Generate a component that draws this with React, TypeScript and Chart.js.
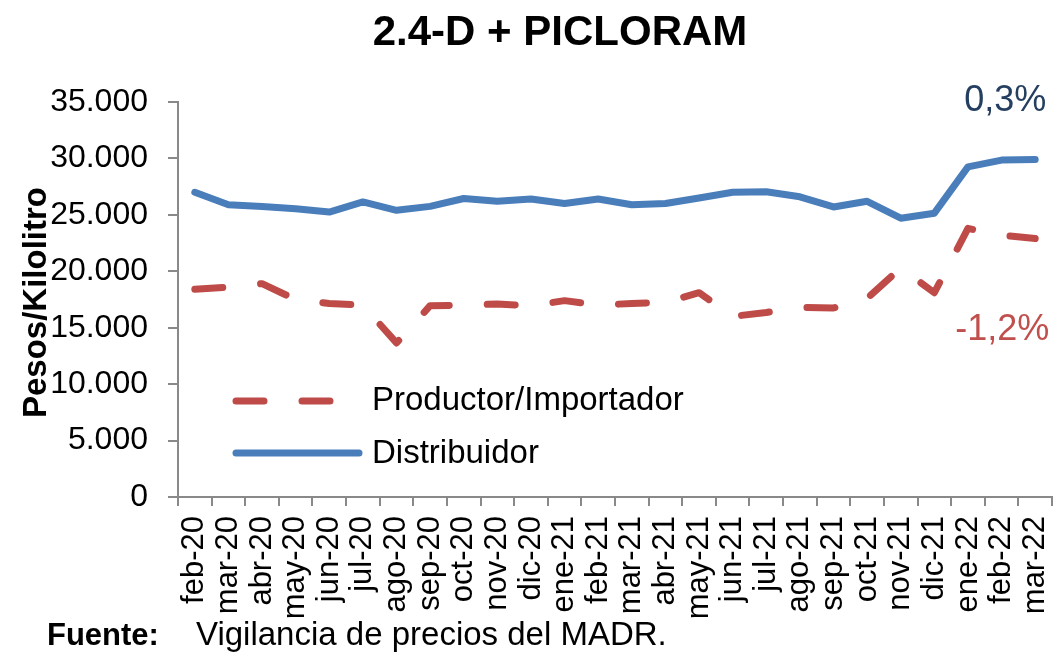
import React, { useEffect, useRef } from "react";
import { Chart, registerables } from "chart.js";

Chart.register(...registerables);

const months: string[] = [
  "feb-20", "mar-20", "abr-20", "may-20", "jun-20", "jul-20", "ago-20", "sep-20",
  "oct-20", "nov-20", "dic-20", "ene-21", "feb-21", "mar-21", "abr-21", "may-21",
  "jun-21", "jul-21", "ago-21", "sep-21", "oct-21", "nov-21", "dic-21", "ene-22",
  "feb-22", "mar-22",
];

const productor: number[] = [
  18400, 18600, 18900, 17500, 17150, 17000, 13650, 16950, 17000, 17100, 16950, 17400,
  17000, 17150, 17250, 18100, 16000, 16350, 16800, 16750, 17600, 20300, 18100, 23800,
  23200, 22900,
];

const distribuidor: number[] = [
  27000, 25900, 25750, 25550, 25250, 26150, 25400, 25750, 26450, 26200, 26400, 26000,
  26400, 25900, 26000, 26500, 27000, 27050, 26600, 25700, 26200, 24700, 25150, 29250,
  29850, 29900,
];

const seriesNames: string[] = ["Productor/Importador", "Distribuidor"];
const changeLabels: string[] = ["-1,2%", "0,3%"];
const yTicks: number[] = [0, 5000, 10000, 15000, 20000, 25000, 30000, 35000];

const TITLE = "2.4-D + PICLORAM";
const Y_TITLE = "Pesos/Kilolitro";
const SOURCE_LABEL = "Fuente:";
const SOURCE_TEXT = "Vigilancia de precios del MADR.";

const FONT = "'Liberation Sans', Arial, sans-serif";
const RED = "#BE4B48";
const BLUE = "#4A7EBB";
const AXIS = "#898989";
const DASH = [28, 38];
const LW = 7;

function fmt(v: number): string {
  return String(Math.round(v)).replace(/\B(?=(\d{3})+(?!\d))/g, ".");
}

const decorPlugin = {
  id: "decor",
  afterDraw(chart: any) {
    const ctx = chart.ctx as CanvasRenderingContext2D;
    const { chartArea } = chart;
    const xs = chart.scales.x;
    const ys = chart.scales.y;
    ctx.save();
    // Title
    ctx.fillStyle = "#000";
    ctx.font = `bold 42px ${FONT}`;
    ctx.textAlign = "center";
    ctx.textBaseline = "middle";
    ctx.fillText(TITLE, 560, 33);

    // Y axis title
    ctx.save();
    ctx.translate(37, (chartArea.top + chartArea.bottom) / 2 + 3);
    ctx.rotate(-Math.PI / 2);
    ctx.font = `bold 33px ${FONT}`;
    ctx.textAlign = "center";
    ctx.textBaseline = "middle";
    ctx.fillText(Y_TITLE, 0, 0);
    ctx.restore();

    // Legend
    ctx.lineWidth = LW;
    ctx.lineCap = "round";
    ctx.strokeStyle = RED;
    ctx.setLineDash(DASH);
    ctx.beginPath();
    ctx.moveTo(236, 401);
    ctx.lineTo(358, 401);
    ctx.stroke();
    ctx.setLineDash([]);
    ctx.strokeStyle = BLUE;
    ctx.beginPath();
    ctx.moveTo(236, 453);
    ctx.lineTo(359, 453);
    ctx.stroke();
    ctx.font = `33px ${FONT}`;
    ctx.fillStyle = "#000";
    ctx.textAlign = "left";
    ctx.textBaseline = "middle";
    ctx.fillText(seriesNames[0], 372, 401);
    ctx.fillText(seriesNames[1], 372, 454);

    // Change annotations anchored near last points
    const lastX = xs.getPixelForValue(months.length - 1);
    ctx.font = `36px ${FONT}`;
    ctx.textAlign = "right";
    ctx.fillStyle = "#243F60";
    ctx.fillText(changeLabels[1], lastX + 11, ys.getPixelForValue(distribuidor[distribuidor.length - 1]) - 58);
    ctx.fillStyle = "#C0504D";
    ctx.fillText(changeLabels[0], lastX + 14, ys.getPixelForValue(productor[productor.length - 1]) + 92);

    // Source
    ctx.fillStyle = "#000";
    ctx.textAlign = "left";
    ctx.font = `bold 31px ${FONT}`;
    ctx.fillText(SOURCE_LABEL, 47, 636);
    ctx.font = `33px ${FONT}`;
    ctx.fillText(SOURCE_TEXT, 196, 636);
    ctx.restore();
  },
};

export default function App() {
  const ref = useRef<HTMLCanvasElement | null>(null);

  useEffect(() => {
    document.body.style.margin = "0";
    const canvas = ref.current;
    if (!canvas) return;
    const chart = new Chart(canvas, {
      type: "line",
      data: {
        labels: months,
        datasets: [
          {
            label: seriesNames[0],
            data: productor,
            borderColor: RED,
            backgroundColor: RED,
            borderWidth: LW,
            borderDash: DASH,
            borderCapStyle: "round",
            borderJoinStyle: "round",
            pointRadius: 0,
            tension: 0,
            fill: false,
          },
          {
            label: seriesNames[1],
            data: distribuidor,
            borderColor: BLUE,
            backgroundColor: BLUE,
            borderWidth: LW,
            borderCapStyle: "round",
            borderJoinStyle: "round",
            pointRadius: 0,
            tension: 0,
            fill: false,
          },
        ],
      },
      options: {
        responsive: false,
        animation: false,
        devicePixelRatio: 1,
        layout: { padding: { top: 102, right: 4, bottom: 0, left: 0 } },
        plugins: {
          legend: { display: false },
          title: { display: false },
          tooltip: { enabled: false },
        },
        scales: {
          x: {
            type: "category",
            offset: true,
            grid: {
              display: true,
              drawOnChartArea: false,
              drawTicks: true,
              tickLength: 9,
              color: AXIS,
              lineWidth: 2,
              offset: true,
            },
            border: { display: true, color: AXIS, width: 2 },
            ticks: {
              autoSkip: false,
              maxRotation: 90,
              minRotation: 90,
              padding: 10,
              color: "#000",
              font: { size: 31, family: FONT },
            },
            afterFit: (s: any) => {
              s.height = 156;
              s.paddingLeft = 0;
              s.paddingRight = 0;
            },
          },
          y: {
            min: 0,
            max: 35000,
            afterBuildTicks: (s: any) => {
              s.ticks = yTicks.map((v) => ({ value: v }));
            },
            grid: {
              display: true,
              drawOnChartArea: false,
              drawTicks: true,
              tickLength: 10,
              color: AXIS,
              lineWidth: 2,
            },
            border: { display: true, color: AXIS, width: 2 },
            ticks: {
              padding: 20,
              color: "#000",
              font: { size: 32, family: FONT },
              callback: (v: any) => fmt(Number(v)),
            },
            afterFit: (s: any) => {
              s.width = 178;
              s.paddingTop = 0;
              s.paddingBottom = 0;
            },
          },
        },
      },
      plugins: [decorPlugin],
    });
    return () => chart.destroy();
  }, []);

  return (
    <div style={{ position: "fixed", left: 0, top: 0, width: 1056, height: 653, background: "#fff" }}>
      <canvas ref={ref} width={1056} height={653} style={{ width: 1056, height: 653 }} />
    </div>
  );
}
